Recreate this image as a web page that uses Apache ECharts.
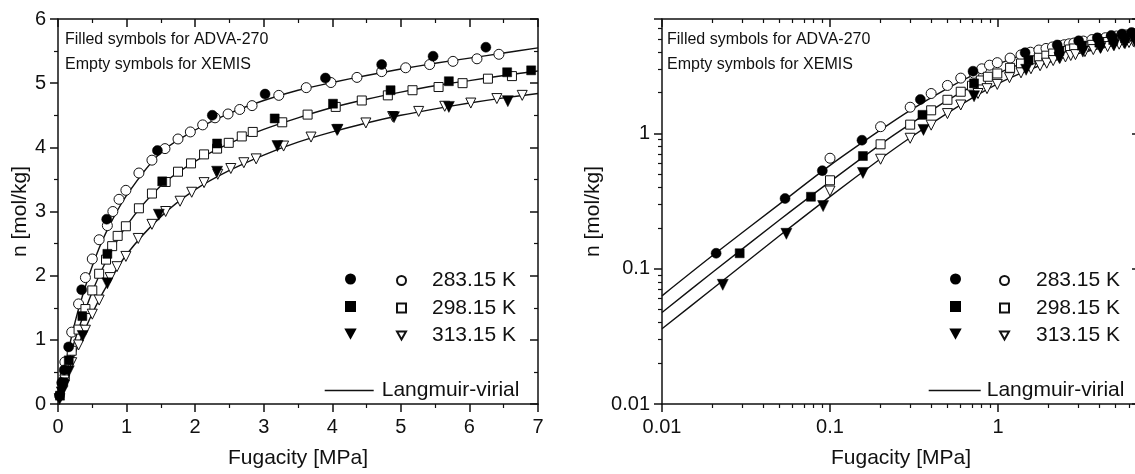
<!DOCTYPE html>
<html>
<head>
<meta charset="utf-8">
<script src="https://cdn.jsdelivr.net/npm/echarts@6/dist/echarts.min.js"></script>
<style>
  html, body { margin: 0; padding: 0; overflow: hidden; background: #fff; }
  #chart { width: 1145px; height: 474px; }
</style>
</head>
<body>
<div id="chart"></div>
<script>
// ADVA-270 (filled symbols): fugacity [MPa] / loading [mol/kg]
const adva283P = [0.021, 0.054, 0.09, 0.155, 0.345, 0.71, 1.45, 2.25, 3.02, 3.9, 4.72, 5.47, 6.24];
const adva283N = [0.13, 0.33, 0.53, 0.89, 1.78, 2.88, 3.95, 4.5, 4.83, 5.08, 5.29, 5.42, 5.56];
const adva298P = [0.029, 0.077, 0.157, 0.355, 0.72, 1.52, 2.32, 3.16, 4.01, 4.85, 5.7, 6.55, 6.9];
const adva298N = [0.13, 0.34, 0.68, 1.37, 2.34, 3.47, 4.06, 4.45, 4.68, 4.89, 5.03, 5.17, 5.2];
const adva313P = [0.023, 0.055, 0.091, 0.157, 0.36, 0.72, 1.47, 2.32, 3.2, 4.07, 4.9, 5.7, 6.56];
const adva313N = [0.076, 0.181, 0.29, 0.51, 1.06, 1.88, 2.95, 3.62, 4.02, 4.27, 4.47, 4.63, 4.72];

// XEMIS (empty symbols)
const xemis283P = [0.1, 0.2, 0.3, 0.4, 0.5, 0.6, 0.72, 0.8, 0.89, 0.99, 1.18, 1.37, 1.56, 1.75, 1.93, 2.11, 2.29, 2.48, 2.65, 2.83, 3.22, 3.62, 3.98, 4.36, 4.72, 5.07, 5.42, 5.76, 6.11, 6.43];
const xemis283N = [0.655, 1.12, 1.56, 1.97, 2.26, 2.56, 2.78, 3.0, 3.19, 3.33, 3.6, 3.8, 3.98, 4.13, 4.24, 4.35, 4.46, 4.52, 4.59, 4.65, 4.81, 4.93, 5.01, 5.09, 5.18, 5.24, 5.29, 5.34, 5.38, 5.45];
const xemis298P = [0.1, 0.2, 0.3, 0.4, 0.5, 0.6, 0.7, 0.79, 0.87, 0.99, 1.18, 1.37, 1.57, 1.75, 1.94, 2.13, 2.32, 2.49, 2.68, 2.84, 3.27, 3.64, 4.05, 4.43, 4.81, 5.17, 5.55, 5.9, 6.27, 6.62];
const xemis298N = [0.45, 0.83, 1.16, 1.48, 1.77, 2.03, 2.25, 2.46, 2.62, 2.77, 3.05, 3.28, 3.46, 3.62, 3.75, 3.89, 3.98, 4.07, 4.17, 4.24, 4.39, 4.51, 4.63, 4.73, 4.81, 4.89, 4.94, 5.0, 5.07, 5.11];
const xemis313P = [0.1, 0.2, 0.3, 0.4, 0.5, 0.6, 0.76, 0.86, 0.99, 1.17, 1.37, 1.57, 1.78, 1.95, 2.13, 2.33, 2.52, 2.71, 2.89, 3.29, 3.69, 4.08, 4.49, 4.88, 5.26, 5.64, 6.02, 6.4, 6.77];
const xemis313N = [0.375, 0.644, 0.92, 1.15, 1.4, 1.62, 1.97, 2.14, 2.3, 2.58, 2.8, 3.0, 3.16, 3.3, 3.45, 3.58, 3.67, 3.76, 3.82, 4.02, 4.16, 4.28, 4.38, 4.48, 4.56, 4.64, 4.69, 4.76, 4.81];

// Langmuir-virial curves
const fitP = [0.01, 0.02, 0.05, 0.1, 0.2, 0.3, 0.5, 0.7, 1, 1.5, 2, 2.5, 3, 3.5, 4, 4.5, 5, 5.5, 6, 6.5, 7];
const fit283 = [0.063, 0.125, 0.3, 0.58, 1.06, 1.48, 2.15, 2.67, 3.25, 3.92, 4.27, 4.53, 4.73, 4.89, 5.01, 5.12, 5.22, 5.31, 5.39, 5.47, 5.55];
const fit298 = [0.0475, 0.094, 0.229, 0.44, 0.83, 1.17, 1.75, 2.22, 2.78, 3.4, 3.78, 4.06, 4.28, 4.46, 4.62, 4.75, 4.86, 4.96, 5.04, 5.12, 5.19];
const fit313 = [0.036, 0.071, 0.175, 0.341, 0.649, 0.928, 1.41, 1.82, 2.33, 2.92, 3.34, 3.64, 3.88, 4.08, 4.24, 4.38, 4.5, 4.6, 4.69, 4.77, 4.84];

const tempLabels = ["283.15 K", "298.15 K", "313.15 K"];
const fitLabel = "Langmuir-virial";

const FONT = "Liberation Sans, Arial, sans-serif";
const INK = "#111";
const DOWN_TRI = "path://M0,0L10,0L5,9Z";

const zip = (xs, ys) => xs.map((x, i) => [x, ys[i]]);

const filledSets = [
  { name: "ADVA " + tempLabels[0], data: zip(adva283P, adva283N), symbol: "circle", size: 10 },
  { name: "ADVA " + tempLabels[1], data: zip(adva298P, adva298N), symbol: "rect", size: 9 },
  { name: "ADVA " + tempLabels[2], data: zip(adva313P, adva313N), symbol: DOWN_TRI, size: 11 },
];
const openSets = [
  { name: tempLabels[0], data: zip(xemis283P, xemis283N), symbol: "circle", size: 10 },
  { name: tempLabels[1], data: zip(xemis298P, xemis298N), symbol: "rect", size: 9 },
  { name: tempLabels[2], data: zip(xemis313P, xemis313N), symbol: DOWN_TRI, size: 10 },
];
const fits = [fit283, fit298, fit313];

function panelSeries(idx) {
  const out = [];
  fits.forEach((f) => {
    out.push({
      type: "line", name: fitLabel, xAxisIndex: idx * 2, yAxisIndex: idx * 2,
      data: zip(fitP, f), showSymbol: false, symbol: "none", smooth: 0.3,
      lineStyle: { color: INK, width: 1.4 }, itemStyle: { color: INK },
      z: 2, silent: true,
    });
  });
  openSets.forEach((s) => {
    out.push({
      type: "scatter", name: s.name, xAxisIndex: idx * 2, yAxisIndex: idx * 2,
      data: s.data, symbol: s.symbol, symbolSize: s.size,
      itemStyle: { color: "#fff", borderColor: INK, borderWidth: 1, opacity: 1 }, z: 3,
    });
  });
  filledSets.forEach((s) => {
    out.push({
      type: "scatter", name: s.name, xAxisIndex: idx * 2, yAxisIndex: idx * 2,
      data: s.data, symbol: s.symbol, symbolSize: s.size,
      itemStyle: { color: "#000", borderColor: "#000", borderWidth: 0.5, opacity: 1 }, z: 4,
    });
  });
  return out;
}

const axisLine = { show: true, onZero: false, lineStyle: { color: INK, width: 1.5 } };
const labelStyle = { color: INK, fontSize: 20, fontFamily: FONT };

function mainX(idx, isLog) {
  const ax = {
    gridIndex: idx, position: "bottom",
    name: "Fugacity [MPa]", nameLocation: "middle", nameGap: 44,
    nameTextStyle: { color: INK, fontSize: 21, fontFamily: FONT },
    axisLine, splitLine: { show: false },
    axisTick: { show: true, inside: false, length: 8, lineStyle: { color: INK, width: 1.5 } },
    minorTick: { show: true, splitNumber: isLog ? 9 : 2, length: 4, lineStyle: { color: INK, width: 1.2 } },
    axisLabel: { ...labelStyle, margin: 13 },
  };
  if (isLog) Object.assign(ax, { type: "log", logBase: 10, min: 0.01, max: 7 });
  else Object.assign(ax, { type: "value", min: 0, max: 7, interval: 1 });
  ax.axisLabel.showMaxLabel = !isLog;
  return ax;
}
function mirrorX(idx, isLog) {
  const ax = mainX(idx, isLog);
  ax.position = "top";
  ax.name = "";
  ax.axisLabel = { show: false };
  ax.axisTick = { ...ax.axisTick, inside: true };
  ax.minorTick = { ...ax.minorTick, inside: true };
  return ax;
}
function mainY(idx, isLog) {
  const ax = {
    gridIndex: idx, position: "left",
    name: "n [mol/kg]", nameLocation: "middle", nameGap: isLog ? 58 : 26, nameRotate: 90,
    nameTextStyle: { color: INK, fontSize: 21, fontFamily: FONT },
    axisLine, splitLine: { show: false },
    axisTick: { show: true, inside: false, length: 8, lineStyle: { color: INK, width: 1.5 } },
    minorTick: { show: true, splitNumber: isLog ? 9 : 2, length: 4, lineStyle: { color: INK, width: 1.2 } },
    axisLabel: { ...labelStyle, margin: 12 },
  };
  if (isLog) Object.assign(ax, { type: "log", logBase: 10, min: 0.01, max: 7 });
  else Object.assign(ax, { type: "value", min: 0, max: 6, interval: 1 });
  ax.axisLabel.showMaxLabel = !isLog;
  return ax;
}
function mirrorY(idx, isLog) {
  const ax = mainY(idx, isLog);
  ax.position = "right";
  ax.name = "";
  ax.axisLabel = { show: false };
  ax.axisTick = { ...ax.axisTick, inside: true };
  ax.minorTick = { ...ax.minorTick, inside: true };
  return ax;
}

function panelLegends(fx, ox, lx, lineW, linePad, textPad) {
  const txt = { color: INK, fontSize: 21, fontFamily: FONT };
  return [
    {
      left: fx, top: 273.5, padding: 0, orient: "vertical", itemWidth: 9, itemHeight: 9, itemGap: 16.5,
      selectedMode: false, data: filledSets.map((s) => s.name), formatter: () => "",
      textStyle: txt,
    },
    {
      left: ox, top: 270, padding: 0, orient: "vertical", itemWidth: 9, itemHeight: 9, itemGap: 6.5,
      selectedMode: false, data: openSets.map((s) => s.name),
      textStyle: { ...txt, padding: [0, 0, 0, textPad] },
    },
    {
      left: lx, top: 380, padding: 0, itemWidth: lineW, itemHeight: 14, selectedMode: false,
      itemStyle: { opacity: 0 },
      lineStyle: { color: INK, width: 1.4, opacity: 1 },
      data: [fitLabel], textStyle: { ...txt, padding: [0, 0, 0, linePad] },
    },
  ];
}

function note(x, y, text) {
  return {
    type: "text", left: x, top: y,
    style: { text, fill: INK, fontSize: 16, fontFamily: FONT },
  };
}

const chart = echarts.init(document.getElementById("chart"), null, { renderer: "canvas" });
chart.setOption({
  animation: false,
  backgroundColor: "#fff",
  grid: [
    { left: 58, top: 19, width: 480, height: 386 },
    { left: 662, top: 19, width: 478, height: 386 },
  ],
  xAxis: [mainX(0, false), mirrorX(0, false), mainX(1, true), mirrorX(1, true)],
  yAxis: [mainY(0, false), mirrorY(0, false), mainY(1, true), mirrorY(1, true)],
  legend: [
    ...panelLegends(345, 396, 324, 49, 3, 21),
    ...panelLegends(950, 999, 928, 52, 1, 22),
  ],
  graphic: [
    note(65, 32, "Filled symbols for ADVA-270"),
    note(65, 57, "Empty symbols for XEMIS"),
    note(667, 32, "Filled symbols for ADVA-270"),
    note(667, 57, "Empty symbols for XEMIS"),
  ],
  series: [...panelSeries(0), ...panelSeries(1)],
});
</script>
</body>
</html>
